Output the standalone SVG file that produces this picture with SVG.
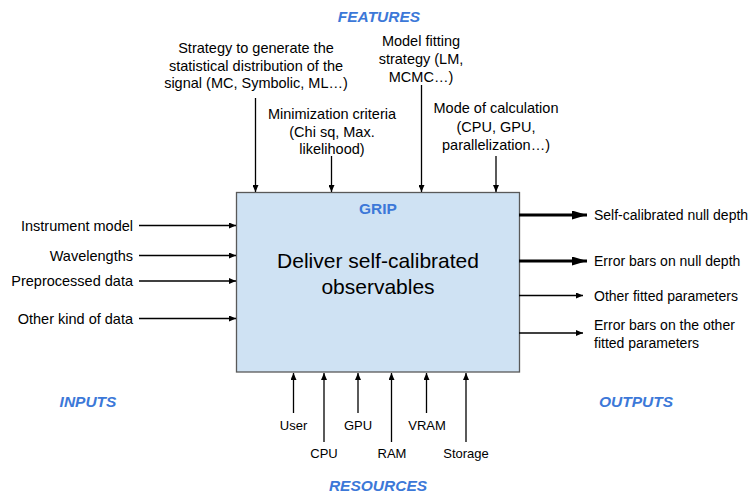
<svg xmlns="http://www.w3.org/2000/svg" width="756" height="494" viewBox="0 0 756 494">
<defs>
<style>
text{font-family:"Liberation Sans",Arial,sans-serif;fill:#000}
.lbl{font-size:14.5px}
.out{font-size:14px}
.res{font-size:13px}
.mid{text-anchor:middle}
.end{text-anchor:end}
.sec{font-size:15.5px;font-weight:bold;font-style:italic;fill:#3c78d8}
.ln{stroke:#000;stroke-width:1.3;fill:none}
.thick{stroke:#000;stroke-width:3;fill:none}
</style>
<marker id="ah" markerWidth="7" markerHeight="6" refX="7" refY="3" orient="auto" markerUnits="userSpaceOnUse"><path d="M0,0 L7,3 L0,6 Z" fill="#000"/></marker>
<marker id="ahb" markerWidth="15" markerHeight="9" refX="15" refY="4.5" orient="auto" markerUnits="userSpaceOnUse"><path d="M0,0 L15,4.5 L0,9 Z" fill="#000"/></marker>
</defs>
<rect width="756" height="494" fill="#fff"/>

<g id="grip">
<rect x="236.5" y="192.5" width="283" height="179.5" fill="#cfe2f3" stroke="#595959" stroke-width="1.3"/>
<text x="378" y="214" class="mid" style="font-size:15.5px;font-weight:bold;fill:#3c78d8">GRIP</text>
<text x="378" y="268" class="mid" style="font-size:21px">Deliver self-calibrated</text>
<text x="378" y="294" class="mid" style="font-size:21px">observables</text>
</g>

<g id="section-labels">
<text x="379" y="22" class="mid sec">FEATURES</text>
<text x="88" y="407" class="mid sec">INPUTS</text>
<text x="636" y="407" class="mid sec">OUTPUTS</text>
<text x="378" y="491" class="mid sec">RESOURCES</text>
</g>

<g id="connectors">
<line class="ln" x1="255.5" y1="98" x2="255.5" y2="192" marker-end="url(#ah)"/>
<line class="ln" x1="331.5" y1="156" x2="331.5" y2="192" marker-end="url(#ah)"/>
<line class="ln" x1="421.5" y1="85" x2="421.5" y2="192" marker-end="url(#ah)"/>
<line class="ln" x1="496" y1="156" x2="496" y2="192" marker-end="url(#ah)"/>

<line class="ln" x1="139" y1="225.5" x2="236" y2="225.5" marker-end="url(#ah)"/>
<line class="ln" x1="139" y1="255.5" x2="236" y2="255.5" marker-end="url(#ah)"/>
<line class="ln" x1="139" y1="281" x2="236" y2="281" marker-end="url(#ah)"/>
<line class="ln" x1="139" y1="318.5" x2="236" y2="318.5" marker-end="url(#ah)"/>

<line class="thick" x1="519" y1="215" x2="587" y2="215" marker-end="url(#ahb)"/>
<line class="thick" x1="519" y1="261" x2="587" y2="261" marker-end="url(#ahb)"/>
<line class="ln" x1="519" y1="295.5" x2="583" y2="295.5" marker-end="url(#ah)"/>
<line class="ln" x1="519" y1="333" x2="583" y2="333" marker-end="url(#ah)"/>

<line class="ln" x1="293.5" y1="413" x2="293.5" y2="373" marker-end="url(#ah)"/>
<line class="ln" x1="324" y1="442" x2="324" y2="373" marker-end="url(#ah)"/>
<line class="ln" x1="358" y1="413" x2="358" y2="373" marker-end="url(#ah)"/>
<line class="ln" x1="391.5" y1="442" x2="391.5" y2="373" marker-end="url(#ah)"/>
<line class="ln" x1="426.5" y1="413" x2="426.5" y2="373" marker-end="url(#ah)"/>
<line class="ln" x1="466" y1="442" x2="466" y2="373" marker-end="url(#ah)"/>
</g>

<g id="feature-strategy">
<text x="256" y="53" class="lbl mid">Strategy to generate the</text>
<text x="256" y="70.5" class="lbl mid">statistical distribution of the</text>
<text x="256" y="88" class="lbl mid">signal (MC, Symbolic, ML…)</text>
</g>
<g id="feature-minimization">
<text x="332" y="119" class="lbl mid">Minimization criteria</text>
<text x="332" y="137" class="lbl mid">(Chi sq, Max.</text>
<text x="332" y="154" class="lbl mid">likelihood)</text>
</g>
<g id="feature-model">
<text x="421" y="46" class="lbl mid">Model fitting</text>
<text x="421" y="64" class="lbl mid">strategy (LM,</text>
<text x="421" y="82" class="lbl mid">MCMC…)</text>
</g>
<g id="feature-mode">
<text x="496" y="113" class="lbl mid">Mode of calculation</text>
<text x="496" y="131.5" class="lbl mid">(CPU, GPU,</text>
<text x="496" y="150" class="lbl mid">parallelization…)</text>
</g>

<g id="input-instrument"><text x="133" y="230.5" class="lbl end">Instrument model</text></g>
<g id="input-wavelengths"><text x="133" y="260.5" class="lbl end">Wavelengths</text></g>
<g id="input-preprocessed"><text x="133" y="286" class="lbl end">Preprocessed data</text></g>
<g id="input-other"><text x="133" y="323.5" class="lbl end">Other kind of data</text></g>

<g id="output-null"><text x="594" y="220" class="out">Self-calibrated null depth</text></g>
<g id="output-errnull"><text x="594" y="266" class="out">Error bars on null depth</text></g>
<g id="output-other"><text x="594" y="300.5" class="out">Other fitted parameters</text></g>
<g id="output-errother">
<text x="594" y="330" class="out">Error bars on the other</text>
<text x="594" y="347.5" class="out">fitted parameters</text>
</g>

<g id="res-user"><text x="293.5" y="430" class="res mid">User</text></g>
<g id="res-cpu"><text x="324" y="458" class="res mid">CPU</text></g>
<g id="res-gpu"><text x="358" y="430" class="res mid">GPU</text></g>
<g id="res-ram"><text x="392" y="458" class="res mid">RAM</text></g>
<g id="res-vram"><text x="427" y="430" class="res mid">VRAM</text></g>
<g id="res-storage"><text x="466" y="458" class="res mid">Storage</text></g>
</svg>
